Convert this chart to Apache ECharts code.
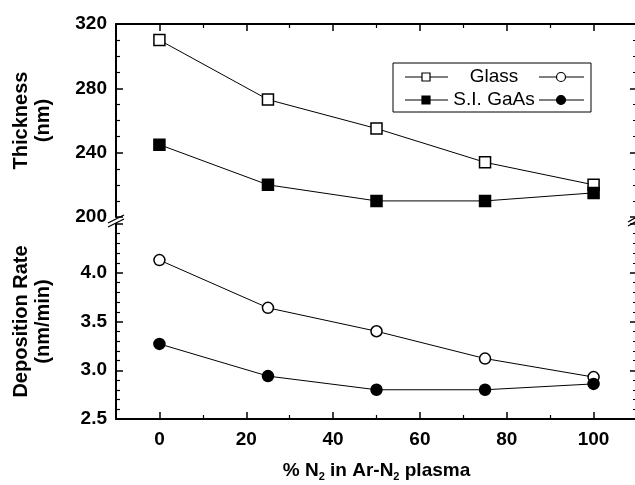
<!DOCTYPE html>
<html>
<head>
<meta charset="utf-8">
<script src="https://cdn.jsdelivr.net/npm/echarts@6/dist/echarts.min.js"></script>
<style>
  html, body { margin: 0; padding: 0; background: #fff; }
  #main { width: 635px; height: 485px; }
</style>
</head>
<body>
<div id="main"></div>
<script>
// % N2 in Ar-N2 plasma
var n2Percent = [0, 25, 50, 75, 100];
// thickness (nm)
var glassThickness = [310, 273, 255, 234, 220];
var gaasThickness = [245, 220, 210, 210, 215];
// deposition rate (nm/min)
var glassRate = [4.13, 3.64, 3.40, 3.12, 2.93];
var gaasRate = [3.27, 2.94, 2.80, 2.80, 2.86];
// x axis ticks
var xTicks = [0, 20, 40, 60, 80, 100];
var xMinorTicks = [10, 30, 50, 70, 90];

var FONT = '"Liberation Sans", Arial, sans-serif';

function pairs(xs, ys) {
  return xs.map(function (x, i) { return [x, ys[i]]; });
}

var chart = echarts.init(document.getElementById('main'));

var tickLabel = { color: '#000', fontFamily: FONT, fontWeight: 'bold', fontSize: 19 };
var axisLine = { show: true, onZero: false, lineStyle: { color: '#000', width: 2 } };
var majorTick = { show: true, inside: true, length: 7, lineStyle: { color: '#000', width: 1.5 } };
var minorTick = function (n) {
  return { show: true, splitNumber: n, length: 4, lineStyle: { color: '#000', width: 1.2 } };
};

// x axis: major ticks + labels on one axis, minor ticks on an overlaid one
function xAxes(grid, pos, labels) {
  var major = {
    type: 'value', gridIndex: grid, position: pos, min: -10, max: 110,
    axisLine: axisLine,
    axisTick: Object.assign({ customValues: xTicks }, majorTick),
    axisLabel: labels ? Object.assign({ margin: 11, customValues: xTicks }, tickLabel) : { show: false },
    splitLine: { show: false }
  };
  var minor = {
    type: 'value', gridIndex: grid, position: pos, offset: 0, min: -10, max: 110,
    axisLine: { show: false, onZero: false },
    axisTick: { show: true, inside: true, length: 4, customValues: xMinorTicks, lineStyle: { color: '#000', width: 1.2 } },
    axisLabel: { show: false }, splitLine: { show: false }
  };
  return [major, minor];
}

function lineSeries(name, xi, yi, data, symbol, filled) {
  return {
    name: name,
    type: 'line',
    xAxisIndex: xi,
    yAxisIndex: yi,
    data: data,
    symbol: symbol,
    symbolSize: 11,
    lineStyle: { color: '#000', width: 1 },
    itemStyle: { color: filled ? '#000' : '#fff', borderColor: '#000', borderWidth: 1.5 },
    emphasis: { disabled: true },
    animation: false
  };
}

// legend drawn by hand: square marker, name, circle marker per row
function legendRow(y, name, filled) {
  var fill = filled ? '#000' : '#fff';
  return [
    { type: 'line', shape: { x1: 405, y1: y, x2: 448, y2: y }, style: { stroke: '#000', lineWidth: 1 } },
    { type: 'rect', shape: { x: 422, y: y - 4, width: 8, height: 8 }, style: { fill: fill, stroke: '#000', lineWidth: 1.2 } },
    { type: 'text', x: 494, y: y, style: { text: name, fontFamily: FONT, fontSize: 19, fill: '#000', align: 'center', verticalAlign: 'middle' } },
    { type: 'line', shape: { x1: 539, y1: y, x2: 584, y2: y }, style: { stroke: '#000', lineWidth: 1 } },
    { type: 'circle', shape: { cx: 561, cy: y, r: 4.5 }, style: { fill: fill, stroke: '#000', lineWidth: 1.2 } }
  ];
}

var graphics = [
  { type: 'rect', shape: { x: 393, y: 63, width: 198, height: 49 }, style: { fill: '#fff', stroke: '#000', lineWidth: 1 }, z: 10 }
].concat(legendRow(77, 'Glass', false), legendRow(100, 'S.I. GaAs', true)).map(function (g) {
  g.z = g.z || 11;
  return g;
});

// axis break marks, left and right
graphics.push(
  { type: 'line', shape: { x1: 108, y1: 223, x2: 124, y2: 215 }, style: { stroke: '#000', lineWidth: 1.3 }, z: 21 },
  { type: 'line', shape: { x1: 108, y1: 227, x2: 124, y2: 219 }, style: { stroke: '#000', lineWidth: 1.3 }, z: 21 },
  { type: 'line', shape: { x1: 628, y1: 222, x2: 640, y2: 215 }, style: { stroke: '#000', lineWidth: 1.3 }, z: 21 },
  { type: 'line', shape: { x1: 628, y1: 226, x2: 640, y2: 219 }, style: { stroke: '#000', lineWidth: 1.3 }, z: 21 }
);

chart.setOption({
  backgroundColor: '#fff',
  animation: false,
  grid: [
    { left: 116, top: 24, width: 521, height: 193, outerBoundsMode: 'none' },
    { left: 116, top: 224, width: 521, height: 195, outerBoundsMode: 'none' }
  ],
  xAxis: xAxes(0, 'top', false).concat(xAxes(1, 'bottom', true)).map(function (a, i) {
    if (i === 2) {
      a.name = '{t|% N}{s|2}{t| in Ar-N}{s|2}{t| plasma}';
      a.nameLocation = 'middle';
      a.nameGap = 40;
      a.nameTextStyle = {
        rich: {
          t: { fontFamily: FONT, fontWeight: 'bold', fontSize: 19, color: '#000' },
          s: { fontFamily: FONT, fontWeight: 'bold', fontSize: 11, color: '#000', padding: [12, 0, 0, 0] }
        }
      };
    }
    return a;
  }),
  yAxis: [
    {
      type: 'value', gridIndex: 0, min: 200, max: 320, interval: 40,
      axisLine: axisLine, axisTick: majorTick, minorTick: minorTick(4),
      axisLabel: Object.assign({ margin: 9 }, tickLabel), splitLine: { show: false },
      name: 'Thickness\n(nm)', nameLocation: 'middle', nameRotate: 90, nameGap: 62,
      nameTextStyle: { fontFamily: FONT, fontWeight: 'bold', fontSize: 20, color: '#000', lineHeight: 22 }
    },
    {
      type: 'value', gridIndex: 1, min: 2.5, max: 4.5, interval: 0.5,
      axisLine: axisLine, axisTick: majorTick, minorTick: minorTick(5),
      axisLabel: Object.assign({ margin: 9, showMaxLabel: false, formatter: function (v) { return v.toFixed(1); } }, tickLabel),
      splitLine: { show: false },
      name: 'Deposition Rate\n(nm/min)', nameLocation: 'middle', nameRotate: 90, nameGap: 62,
      nameTextStyle: { fontFamily: FONT, fontWeight: 'bold', fontSize: 20, color: '#000', lineHeight: 22 }
    },
    {
      type: 'value', gridIndex: 0, position: 'right', min: 200, max: 320, interval: 40,
      axisLine: axisLine, axisTick: majorTick, minorTick: minorTick(4),
      axisLabel: { show: false }, splitLine: { show: false }
    },
    {
      type: 'value', gridIndex: 1, position: 'right', min: 2.5, max: 4.5, interval: 0.5,
      axisLine: axisLine, axisTick: majorTick, minorTick: minorTick(5),
      axisLabel: { show: false }, splitLine: { show: false }
    }
  ],
  series: [
    lineSeries('Glass', 0, 0, pairs(n2Percent, glassThickness), 'rect', false),
    lineSeries('S.I. GaAs', 0, 0, pairs(n2Percent, gaasThickness), 'rect', true),
    lineSeries('Glass rate', 2, 1, pairs(n2Percent, glassRate), 'circle', false),
    lineSeries('S.I. GaAs rate', 2, 1, pairs(n2Percent, gaasRate), 'circle', true)
  ],
  graphic: graphics
});
</script>
</body>
</html>
